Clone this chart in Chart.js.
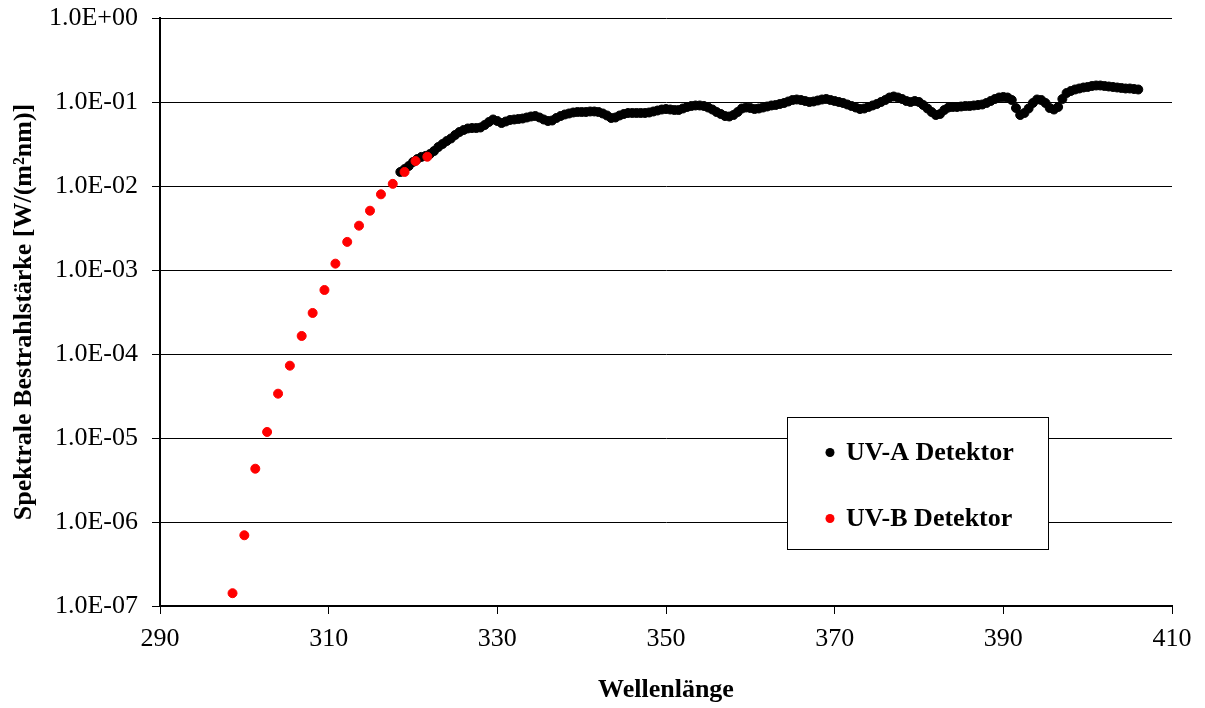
<!DOCTYPE html>
<html>
<head>
<meta charset="utf-8">
<script src="https://cdn.jsdelivr.net/npm/chart.js@4/dist/chart.umd.min.js"></script>
<style>
  html, body { margin: 0; padding: 0; background: #fff; }
  #wrap { width: 1205px; height: 708px; position: relative; }
</style>
</head>
<body>
<div id="wrap"><canvas id="c" width="1205" height="708"></canvas></div>
<script>
// ---- Data ----
const uvaWavelengths = [
  318.5, 319, 319.5, 320, 320.5, 321, 321.5, 322, 322.5, 323, 323.5, 324, 324.5, 325, 325.5, 326, 326.5, 327, 327.5, 328,
  328.5, 329, 329.5, 330, 330.5, 331, 331.5, 332, 332.5, 333, 333.5, 334, 334.5, 335, 335.5, 336, 336.5, 337, 337.5, 338,
  338.5, 339, 339.5, 340, 340.5, 341, 341.5, 342, 342.5, 343, 343.5, 344, 344.5, 345, 345.5, 346, 346.5, 347, 347.5, 348,
  348.5, 349, 349.5, 350, 350.5, 351, 351.5, 352, 352.5, 353, 353.5, 354, 354.5, 355, 355.5, 356, 356.5, 357, 357.5, 358,
  358.5, 359, 359.5, 360, 360.5, 361, 361.5, 362, 362.5, 363, 363.5, 364, 364.5, 365, 365.5, 366, 366.5, 367, 367.5, 368,
  368.5, 369, 369.5, 370, 370.5, 371, 371.5, 372, 372.5, 373, 373.5, 374, 374.5, 375, 375.5, 376, 376.5, 377, 377.5, 378,
  378.5, 379, 379.5, 380, 380.5, 381, 381.5, 382, 382.5, 383, 383.5, 384, 384.5, 385, 385.5, 386, 386.5, 387, 387.5, 388,
  388.5, 389, 389.5, 390, 390.5, 391, 391.5, 392, 392.5, 393, 393.5, 394, 394.5, 395, 395.5, 396, 396.5, 397, 397.5, 398,
  398.5, 399, 399.5, 400, 400.5, 401, 401.5, 402, 402.5, 403, 403.5, 404, 404.5, 405, 405.5, 406
];
const uvaValues = [
  0.0147, 0.0159, 0.0173, 0.0193, 0.0209, 0.0222, 0.0228, 0.0240, 0.0261, 0.0291, 0.0316, 0.0343, 0.0368, 0.0405, 0.0439, 0.0464, 0.0484, 0.0490, 0.0490, 0.0497,
  0.0532, 0.0578, 0.0619, 0.0594, 0.0562, 0.0586, 0.0611, 0.0619, 0.0628, 0.0636, 0.0654, 0.0672, 0.0681, 0.0654, 0.0619, 0.0594, 0.0602, 0.0645, 0.0681, 0.0710,
  0.0730, 0.0750, 0.0760, 0.0760, 0.0760, 0.0771, 0.0771, 0.0760, 0.0730, 0.0691, 0.0645, 0.0654, 0.0691, 0.0720, 0.0740, 0.0740, 0.0740, 0.0740, 0.0740, 0.0750,
  0.0771, 0.0792, 0.0814, 0.0825, 0.0814, 0.0803, 0.0803, 0.0837, 0.0872, 0.0896, 0.0909, 0.0909, 0.0896, 0.0860, 0.0814, 0.0760, 0.0720, 0.0681, 0.0672, 0.0700,
  0.0760, 0.0837, 0.0860, 0.0848, 0.0825, 0.0837, 0.0860, 0.0884, 0.0909, 0.0921, 0.0947, 0.0973, 0.1014, 0.1056, 0.1071, 0.1056, 0.1028, 0.1000, 0.1014, 0.1042,
  0.1071, 0.1086, 0.1056, 0.1028, 0.1000, 0.0973, 0.0934, 0.0896, 0.0860, 0.0825, 0.0837, 0.0872, 0.0909, 0.0947, 0.1000, 0.1056, 0.1131, 0.1163, 0.1131, 0.1086,
  0.1028, 0.1000, 0.1028, 0.1000, 0.0921, 0.0837, 0.0760, 0.0700, 0.0720, 0.0803, 0.0860, 0.0872, 0.0872, 0.0884, 0.0896, 0.0896, 0.0909, 0.0921, 0.0934, 0.0973,
  0.1028, 0.1086, 0.1131, 0.1147, 0.1131, 0.1056, 0.0848, 0.0700, 0.0740, 0.0837, 0.0973, 0.1071, 0.1056, 0.0973, 0.0848, 0.0814, 0.0872, 0.1086, 0.1279, 0.1352,
  0.1409, 0.1448, 0.1488, 0.1509, 0.1550, 0.1572, 0.1572, 0.1550, 0.1529, 0.1509, 0.1488, 0.1468, 0.1448, 0.1448, 0.1428, 0.1409
];
const uvbWavelengths = [298.6, 300.0, 301.3, 302.7, 304.0, 305.4, 306.8, 308.1, 309.5, 310.8, 312.2, 313.6, 314.9, 316.2, 317.6, 319.0, 320.3, 321.7];
const uvbValues = [1.42e-7, 6.95e-7, 4.31e-6, 1.18e-5, 3.37e-5, 7.26e-5, 1.64e-4, 3.08e-4, 5.78e-4, 1.19e-3, 2.16e-3, 3.37e-3, 5.08e-3, 7.96e-3, 1.06e-2, 1.47e-2, 1.98e-2, 2.23e-2];
const seriesNames = ['UV-A Detektor', 'UV-B Detektor'];
const yTickValues = [1e-7, 1e-6, 1e-5, 1e-4, 1e-3, 1e-2, 1e-1, 1];
const yTickLabels = ['1.0E-07', '1.0E-06', '1.0E-05', '1.0E-04', '1.0E-03', '1.0E-02', '1.0E-01', '1.0E+00'];
const xTickValues = [290, 310, 330, 350, 370, 390, 410];
const xTitle = 'Wellenlänge';
const yTitle = 'Spektrale Bestrahlstärke [W/(m²nm)]';

// ---- Build ----
const toPoints = (xs, ys) => xs.map((x, i) => ({ x: x, y: ys[i] }));
const FONT = '"Liberation Serif", "Times New Roman", Times, serif';

const legendBox = {
  id: 'legendBox',
  afterDatasetsDraw(chart) {
    const ctx = chart.ctx;
    ctx.save();
    ctx.fillStyle = '#fff';
    ctx.strokeStyle = '#000';
    ctx.lineWidth = 1;
    ctx.fillRect(787.5, 417.5, 261, 132);
    ctx.strokeRect(787.5, 417.5, 261, 132);
    const items = [
      { name: seriesNames[0], color: '#000', y: 452.5 },
      { name: seriesNames[1], color: '#ff0000', y: 518.5 }
    ];
    ctx.font = 'bold 26px ' + FONT;
    ctx.textBaseline = 'middle';
    ctx.textAlign = 'left';
    items.forEach(it => {
      ctx.fillStyle = it.color;
      ctx.beginPath();
      ctx.arc(830, it.y, 4.5, 0, Math.PI * 2);
      ctx.fill();
      ctx.fillStyle = '#000';
      ctx.fillText(it.name, 846, it.y + 1);
    });
    ctx.restore();
  }
};

Chart.defaults.font.family = FONT;
Chart.defaults.font.size = 26;
Chart.defaults.color = '#000';

new Chart(document.getElementById('c'), {
  type: 'scatter',
  data: {
    datasets: [
      {
        label: seriesNames[1],
        data: toPoints(uvbWavelengths, uvbValues),
        backgroundColor: '#ff0000',
        borderColor: '#ff0000',
        borderWidth: 1,
        pointRadius: 4.5,
        pointHoverRadius: 4.5
      },
      {
        label: seriesNames[0],
        data: toPoints(uvaWavelengths, uvaValues),
        backgroundColor: '#000',
        borderColor: '#000',
        borderWidth: 1,
        pointRadius: 4.5,
        pointHoverRadius: 4.5
      }
    ]
  },
  options: {
    responsive: false,
    animation: false,
    events: [],
    layout: { padding: { top: 18, right: 33, left: 0, bottom: 0 } },
    plugins: { legend: { display: false }, tooltip: { enabled: false } },
    scales: {
      x: {
        type: 'linear',
        min: 290,
        max: 410,
        afterBuildTicks: s => { s.ticks = xTickValues.map(v => ({ value: v })); },
        afterFit: s => { s.height = 102; s.paddingLeft = 0; s.paddingRight = 0; },
        grid: { drawOnChartArea: false, drawTicks: true, tickLength: 8, color: '#000', lineWidth: 1 },
        border: { display: true, color: '#000', width: 2 },
        ticks: { font: { size: 26 }, padding: 10, maxRotation: 0, autoSkip: false },
        title: { display: true, text: xTitle, font: { size: 26, weight: 'bold' }, padding: { top: 0, bottom: 2 } }
      },
      y: {
        type: 'logarithmic',
        min: 1e-7,
        max: 1,
        afterBuildTicks: s => { s.ticks = yTickValues.map(v => ({ value: v })); },
        afterFit: s => { s.width = 160; s.paddingTop = 0; s.paddingBottom = 0; },
        grid: { drawOnChartArea: true, drawTicks: true, tickLength: 8, color: '#000', lineWidth: 1 },
        border: { display: true, color: '#000', width: 2 },
        ticks: {
          font: { size: 26 },
          padding: 14,
          autoSkip: false,
          callback: function (value) {
            const i = yTickValues.findIndex(v => Math.abs(Math.log10(v) - Math.log10(value)) < 1e-6);
            return i >= 0 ? yTickLabels[i] : '';
          }
        },
        title: { display: true, text: yTitle, font: { size: 26, weight: 'bold' }, padding: { top: 9, bottom: 0 } }
      }
    }
  },
  plugins: [legendBox]
});
</script>
</body>
</html>
